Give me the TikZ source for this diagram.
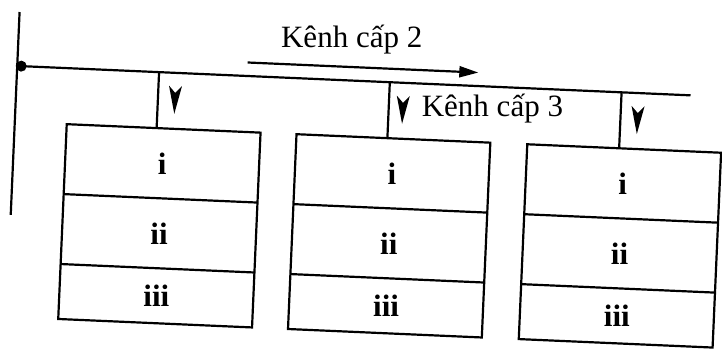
\documentclass[tikz,border=0pt]{standalone}
\usepackage{fontspec}
\setmainfont{Liberation Serif}
\usetikzlibrary{arrows.meta}

\begin{document}
\begin{tikzpicture}[x=1pt,y=-1pt,line width=2.2pt]
    \tikzset{
        cellnum/.style={font=\fontsize{31}{36}\selectfont\bfseries,inner sep=0pt},
        chan/.style={font=\fontsize{31}{35}\selectfont,inner sep=0pt}}
    \def\tipmark{(-6.5,-14) -- (0,-7) -- (6.5,-14) -- (0,14) -- cycle}
    \useasboundingbox (0,0) rectangle (722,348);
    \begin{scope}[rotate around={-2.5:(360,170)}]
        \draw (13,27) -- (13,230);
        \fill (17,81) coordinate (src) circle (5.5pt);
        \coordinate (end) at (687,81);
        \draw (src) -- (end);
        % kenh cap 2
        \coordinate (a2s) at (243,67.5);
        \coordinate (a2e) at (474,67.5);
        \draw[-{Triangle[length=19pt,width=11pt]}] (a2s) -- (a2e);
        \node[chan] (k2) at (346,40) {Kênh cấp 2};
        \foreach \L/\cx/\mx [count=\k] in {65/155/172, 295/386/400, 526/618/635}{
            \coordinate (t\k) at (\cx,81);
            \coordinate (b\k) at (\cx,137);
            \draw (t\k) -- (b\k);
            \fill[shift={(\mx,108)}] \tipmark;
            \draw (\L,137) rectangle ++(194,195);
            \draw (\L,207) -- ++(194,0) (\L,277) -- ++(194,0);
            \node[cellnum] (i\k) at (\L+97,172) {i};
            \node[cellnum] (ii\k) at (\L+97,242) {ii};
            \node[cellnum] (iii\k) at (\L+97,304.5) {iii};
        }
        \node[chan,anchor=west] (k3) at (418,106) {Kênh cấp 3};
    \end{scope}
\end{tikzpicture}
\end{document}
